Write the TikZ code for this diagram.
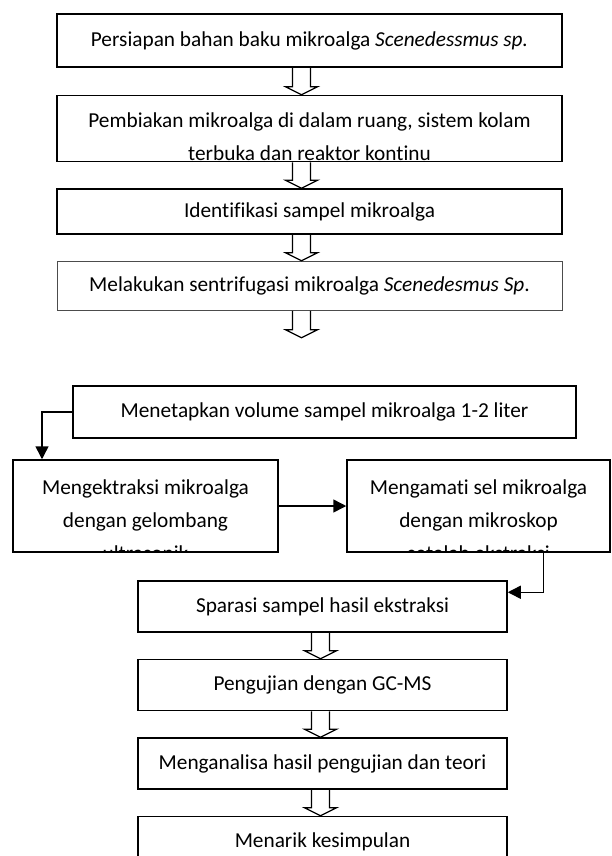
\documentclass[tikz,border=0pt]{standalone}
\usepackage{fontspec}
\setmainfont[Ligatures=NoCommon]{Carlito}
\usetikzlibrary{arrows.meta, positioning, calc}

% hollow block arrow between two boxes
\newcommand{\blockdown}[3][0pt]{%
  \draw[line width=1.3pt, line join=miter] let \p1=($(#2.south)+(#1,0)$), \p2=(#3.north) in
    (\x1-9pt,\y1) -- (\x1-9pt,\y2+8pt) -- (\x1-16pt,\y2+8pt) -- (\x1,\y2)
    -- (\x1+16pt,\y2+8pt) -- (\x1+9pt,\y2+8pt) -- (\x1+9pt,\y1);}

\begin{document}
\begin{tikzpicture}[x=1pt, y=1pt,
	box/.style={rectangle, draw, line width=1.5pt, inner sep=0pt, font=\fontsize{21.3}{33}\selectfont},
	wide/.style={box, minimum width=505pt},
	lower/.style={box, minimum width=369pt, minimum height=51pt},
	half/.style={box, minimum height=92pt},
	txt/.style={inner sep=0pt, align=center, font=\fontsize{21.3}{33}\selectfont},
	>={Triangle[length=13pt, width=13pt]}]
	\useasboundingbox (0,0) rectangle (612,-856);

	% Upper column
	\node[wide, minimum height=53pt] (persiapan) at (309.5,-40.5) {Persiapan bahan baku mikroalga \textit{Scenedessmus sp.}};
	\node[wide, minimum height=66pt, below=27pt of persiapan] (pembiakan) {};
	\node[wide, minimum height=45pt, below=26pt of pembiakan] (identifikasi) {Identifikasi sampel mikroalga};
	\node[wide, minimum height=49pt, below=26pt of identifikasi, draw=black!70, line width=1pt] (sentrifugasi) {Melakukan sentrifugasi mikroalga \textit{Scenedesmus Sp}.};
	\coordinate[below=27pt of sentrifugasi] (jeda);

	% Text cut off by the box
	\begin{scope}
		\clip (pembiakan.south west) rectangle (pembiakan.north east);
		\node[txt, anchor=north] (pembiakantxt) at ([yshift=-18pt]pembiakan.north) {Pembiakan mikroalga di dalam ruang, sistem kolam\\terbuka dan reaktor kontinu};
	\end{scope}

	% Block arrows
	\blockdown[-8pt]{persiapan}{pembiakan}
	\blockdown[-8pt]{pembiakan}{identifikasi}
	\blockdown[-8pt]{identifikasi}{sentrifugasi}
	\blockdown[-8pt]{sentrifugasi}{jeda}

	% Extraction step
	\node[wide, minimum width=503pt, minimum height=52pt] (volume) at (324.5,-412) {Menetapkan volume sampel mikroalga 1-2 liter};
	\node[half, minimum width=265pt] (ekstraksi) at (145.5,-506) {};
	\node[half, minimum width=263pt] (amati) at (478.5,-506) {};
	\begin{scope}
		\clip (ekstraksi.south west) rectangle (ekstraksi.north east);
		\node[txt, anchor=north] (ekstraksitxt) at ([yshift=-20pt]ekstraksi.north) {Mengektraksi mikroalga\\dengan gelombang\\ultrasonik};
	\end{scope}
	\begin{scope}
		\clip (amati.south west) rectangle (amati.north east);
		\node[txt, anchor=north] (amatitxt) at ([yshift=-20pt]amati.north) {Mengamati sel mikroalga\\dengan mikroskop\\setelah ekstraksi};
	\end{scope}

	% Lower column
	\node[lower] (sparasi) at (322.5,-606.5) {Sparasi sampel hasil ekstraksi};
	\node[lower, below=26pt of sparasi] (gcms) {Pengujian dengan GC-MS};
	\node[lower, below=26pt of gcms] (analisa) {Menganalisa hasil pengujian dan teori};
	\node[lower, below=26pt of analisa] (simpulan) {Menarik kesimpulan};

	% Connectors
	\draw[->, line width=1.5pt] (volume.west) -| (ekstraksi.north -| 42,0);
	\draw[->, line width=1.5pt] (ekstraksi) -- (amati);
	\draw[->, line width=1.5pt] ($(amati.south)+(65,0)$) |- ($(sparasi.north east)+(0,-12)$);

	\blockdown[-2pt]{sparasi}{gcms}
	\blockdown[-2pt]{gcms}{analisa}
	\blockdown[-2pt]{analisa}{simpulan}
\end{tikzpicture}
\end{document}
